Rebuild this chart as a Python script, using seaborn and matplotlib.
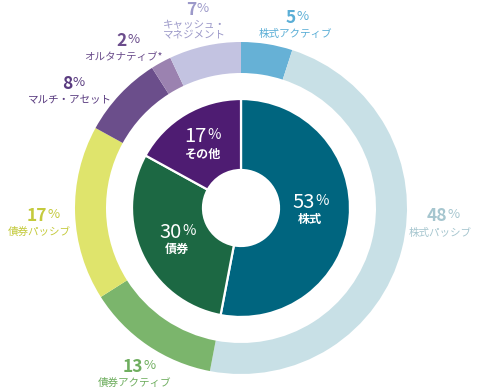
import matplotlib
matplotlib.use("Agg")
import matplotlib.pyplot as plt
import seaborn as sns

sns.set_theme(style="white")
plt.rcParams["font.family"] = ["Noto Sans CJK JP", "DejaVu Sans"]

# ---- data ----
inner_labels = ["株式", "債券", "その他"]
inner_values = [53, 30, 17]
inner_colors = ["#00657f", "#1c6843", "#4e1c72"]

outer_labels = ["株式アクティブ", "株式パッシブ", "債券アクティブ", "債券パッシブ",
                "マルチ・アセット", "オルタナティブ*", "キャッシュ・\nマネジメント"]
outer_values = [5, 48, 13, 17, 8, 2, 7]
outer_colors = ["#66b1d6", "#c8e0e6", "#7bb56c", "#dfe46c", "#6b4e8b", "#9b82b0", "#c3c3e1"]
outer_text_colors = ["#5aaed6", "#a6c6cf", "#6fae5f", "#c4ca3c", "#5a3c80", "#6b4d8c", "#9c99c9"]

# ---- layout (pixel coordinates, y from top) ----
W, H = 480, 390
CX, CY = 241, 208
R_OUT, W_OUT = 166, 31
R_IN, W_IN = 109, 71

# (junction x of number/%, number baseline y, label centre x, label centre y)
outer_pos = [(296, 23, 295, 34), (447, 221, 440, 233), (143, 372, 135, 383),
             (47, 221, 39, 232), (72, 89, 70, 100), (127, 46, 123, 57),
             (196, 15, 194, 30)]
inner_pos = [(315, 208, 310, 220), (182, 238, 177, 249), (207, 142, 203, 154)]

fig = plt.figure(figsize=(W / 100, H / 100), dpi=100)
ax = fig.add_axes([0, 0, 1, 1])


def Y(y):
    return H - y


ax.pie(outer_values, radius=R_OUT, center=(CX, Y(CY)), startangle=90,
       counterclock=False, colors=outer_colors,
       wedgeprops=dict(width=W_OUT, linewidth=0, edgecolor="none"))
ax.pie(inner_values, radius=R_IN, center=(CX, Y(CY)), startangle=90,
       counterclock=False, colors=inner_colors,
       wedgeprops=dict(width=W_IN, linewidth=1.6, edgecolor="white"))

ax.set_xlim(0, W)
ax.set_ylim(0, H)
ax.set_aspect("equal")
ax.axis("off")


def pct(x, yb, v, color, fs, pfs, weight, raise_px):
    ax.text(x, Y(yb), f"{v:g}", ha="right", va="baseline", fontsize=fs,
            color=color, fontweight=weight)
    ax.text(x + 0.5, Y(yb) + raise_px, "%", ha="left", va="baseline",
            fontsize=pfs, color=color, fontweight="normal")


for v, lab, c, (jx, yb, lx, ly) in zip(outer_values, outer_labels,
                                         outer_text_colors, outer_pos):
    pct(jx, yb, v, c, 12.5, 9.5, "bold", 3)
    ax.text(lx, Y(ly), lab, ha="center", va="center", fontsize=7.6, color=c,
            linespacing=1.05)

for v, lab, (jx, yb, lx, ly) in zip(inner_values, inner_labels, inner_pos):
    pct(jx, yb, v, "white", 14.5, 10.5, "normal", 3)
    ax.text(lx, Y(ly), lab, ha="center", va="center", fontsize=8.7,
            color="white", fontweight="bold")

fig.savefig("out.png", dpi=100, facecolor="white")
